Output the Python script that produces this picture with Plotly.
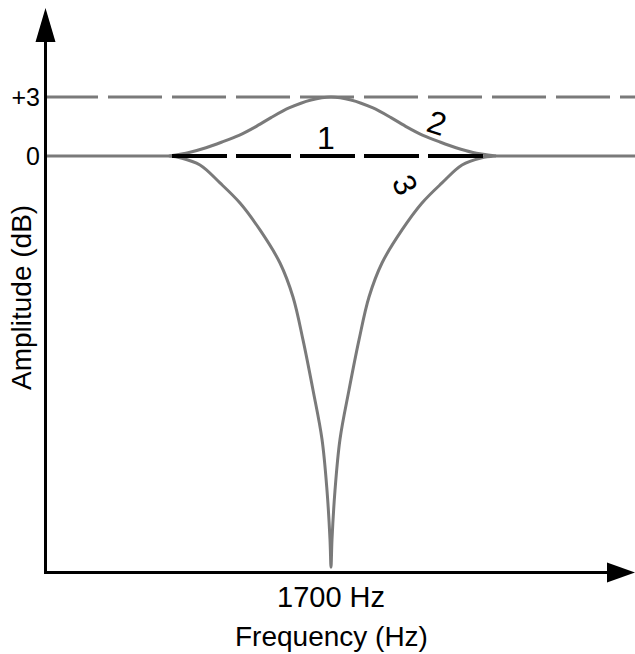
import plotly.graph_objects as go

# ---------------- data ----------------
# Frequency in Hz, amplitude in dB
x_min_hz, x_max_hz = 552, 2916
y_min_db, y_max_db = -21.2, 7.93

# Curve 2: +3 dB bump centred on 1700 Hz
bump_freq = [1052, 1132, 1200, 1264, 1332, 1396, 1460, 1532, 1620, 1700,
             1780, 1868, 1940, 2004, 2068, 2136, 2200, 2268, 2360]
bump_gain = [0.0, 0.18, 0.42, 0.71, 1.05, 1.47, 1.95, 2.44, 2.85, 3.0,
             2.85, 2.44, 1.95, 1.47, 1.05, 0.71, 0.42, 0.18, 0.0]

# Curve 3: notch centred on 1700 Hz
notch_freq = [1052, 1100, 1176, 1256, 1336, 1416, 1496, 1548, 1588, 1628,
              1664, 1684, 1696, 1700, 1704, 1716, 1736, 1772, 1812, 1852,
              1904, 1984, 2064, 2144, 2224, 2300, 2356]
notch_gain = [0.0, -0.1, -0.46, -1.37, -2.39, -3.76, -5.44, -7.17, -9.35, -11.9,
              -14.4, -17.0, -19.5, -20.9, -19.5, -17.0, -14.4, -11.9, -9.35, -7.17,
              -5.44, -3.76, -2.39, -1.37, -0.46, -0.1, 0.0]

# Flat 0 dB parts outside the filter region
flat_left_freq = [552, 1052]
flat_right_freq = [2356, 2916]
flat_gain = [0, 0]

# Curve 1: flat black dashed line at 0 dB
line1_freq = [1064, 2344]
line1_gain = [0, 0]

# +3 dB reference line
ref_freq = [552, 2916]
ref_gain = [3, 3]

x_tick_vals = [1700]
x_tick_text = ["1700 Hz"]
y_tick_vals = [0, 3]
y_tick_text = ["0", "+3"]

curve_labels = ["1", "2", "3"]
label_freq = [1680, 2124, 1996]
label_gain = [0.92, 1.68, -1.47]
label_angle = [0, 18, 65]

# ---------------- figure ----------------
W, H = 635, 654
ML, MR, MT, MB = 44, 0, 0, 81
PW, PH = W - ML - MR, H - MT - MB
FONT = "Liberation Sans, Arial, sans-serif"
GRAY = "#7a7a7a"


def px(xp):
    return (xp - ML) / PW


def py(yp):
    return (H - MB - yp) / PH


fig = go.Figure()
fig.add_trace(go.Scatter(x=ref_freq, y=ref_gain, mode="lines",
                         line=dict(color=GRAY, width=3, dash="54px,10px"),
                         hoverinfo="skip"))
for fx in (flat_left_freq, flat_right_freq):
    fig.add_trace(go.Scatter(x=fx, y=flat_gain, mode="lines",
                             line=dict(color=GRAY, width=3), hoverinfo="skip"))
fig.add_trace(go.Scatter(x=bump_freq, y=bump_gain, mode="lines",
                         line=dict(color=GRAY, width=3, shape="spline", smoothing=0.8)))
fig.add_trace(go.Scatter(x=notch_freq, y=notch_gain, mode="lines",
                         line=dict(color=GRAY, width=3, shape="spline", smoothing=1.0)))
fig.add_trace(go.Scatter(x=line1_freq, y=line1_gain, mode="lines",
                         line=dict(color="black", width=4, dash="55px,9px")))

for t, fx, gy, ang in zip(curve_labels, label_freq, label_gain, label_angle):
    fig.add_annotation(x=fx, y=gy, text=t, showarrow=False, textangle=ang,
                       font=dict(family=FONT, size=32, color="black"))

# axis titles
fig.add_annotation(xref="paper", yref="paper", x=0, y=py(298), xshift=-22,
                   text="Amplitude (dB)", textangle=-90, showarrow=False,
                   xanchor="center", yanchor="middle",
                   font=dict(family=FONT, size=28, color="black"))
fig.add_annotation(xref="x", yref="paper", x=1700, y=0, yshift=-63,
                   text="Frequency (Hz)", showarrow=False,
                   xanchor="center", yanchor="middle",
                   font=dict(family=FONT, size=28, color="black"))

# axis lines with arrowheads
shapes = [
    dict(type="line", xref="paper", yref="paper", x0=px(44), x1=px(608),
         y0=py(572.5), y1=py(572.5), line=dict(color="black", width=3)),
    dict(type="line", xref="paper", yref="paper", x0=px(45.5), x1=px(45.5),
         y0=py(574), y1=py(40), line=dict(color="black", width=3)),
    dict(type="path", xref="paper", yref="paper", fillcolor="black",
         line=dict(color="black", width=0),
         path=f"M {px(635)},{py(572.5)} L {px(607)},{py(562.5)} L {px(607)},{py(582.5)} Z"),
    dict(type="path", xref="paper", yref="paper", fillcolor="black",
         line=dict(color="black", width=0),
         path=f"M {px(45.5)},{py(8)} L {px(35.5)},{py(42)} L {px(55.5)},{py(42)} Z"),
]

fig.update_layout(
    width=W, height=H,
    margin=dict(l=ML, r=MR, t=MT, b=MB, pad=0),
    paper_bgcolor="white", plot_bgcolor="white",
    showlegend=False, shapes=shapes,
    xaxis=dict(range=[x_min_hz, x_max_hz], showgrid=False, zeroline=False,
               showline=False, tickvals=x_tick_vals, ticktext=x_tick_text,
               ticks="", ticklabelstandoff=4,
               tickfont=dict(family=FONT, size=29, color="black"),
               fixedrange=True),
    yaxis=dict(range=[y_min_db, y_max_db], showgrid=False, zeroline=False,
               showline=False, tickvals=y_tick_vals, ticktext=y_tick_text,
               ticks="", ticklabelstandoff=3,
               tickfont=dict(family=FONT, size=25, color="black"),
               fixedrange=True),
)

fig.write_html("out.html", config={"staticPlot": True},
               post_script="document.body.style.margin='0px';"
                           "document.body.style.overflow='hidden';")
